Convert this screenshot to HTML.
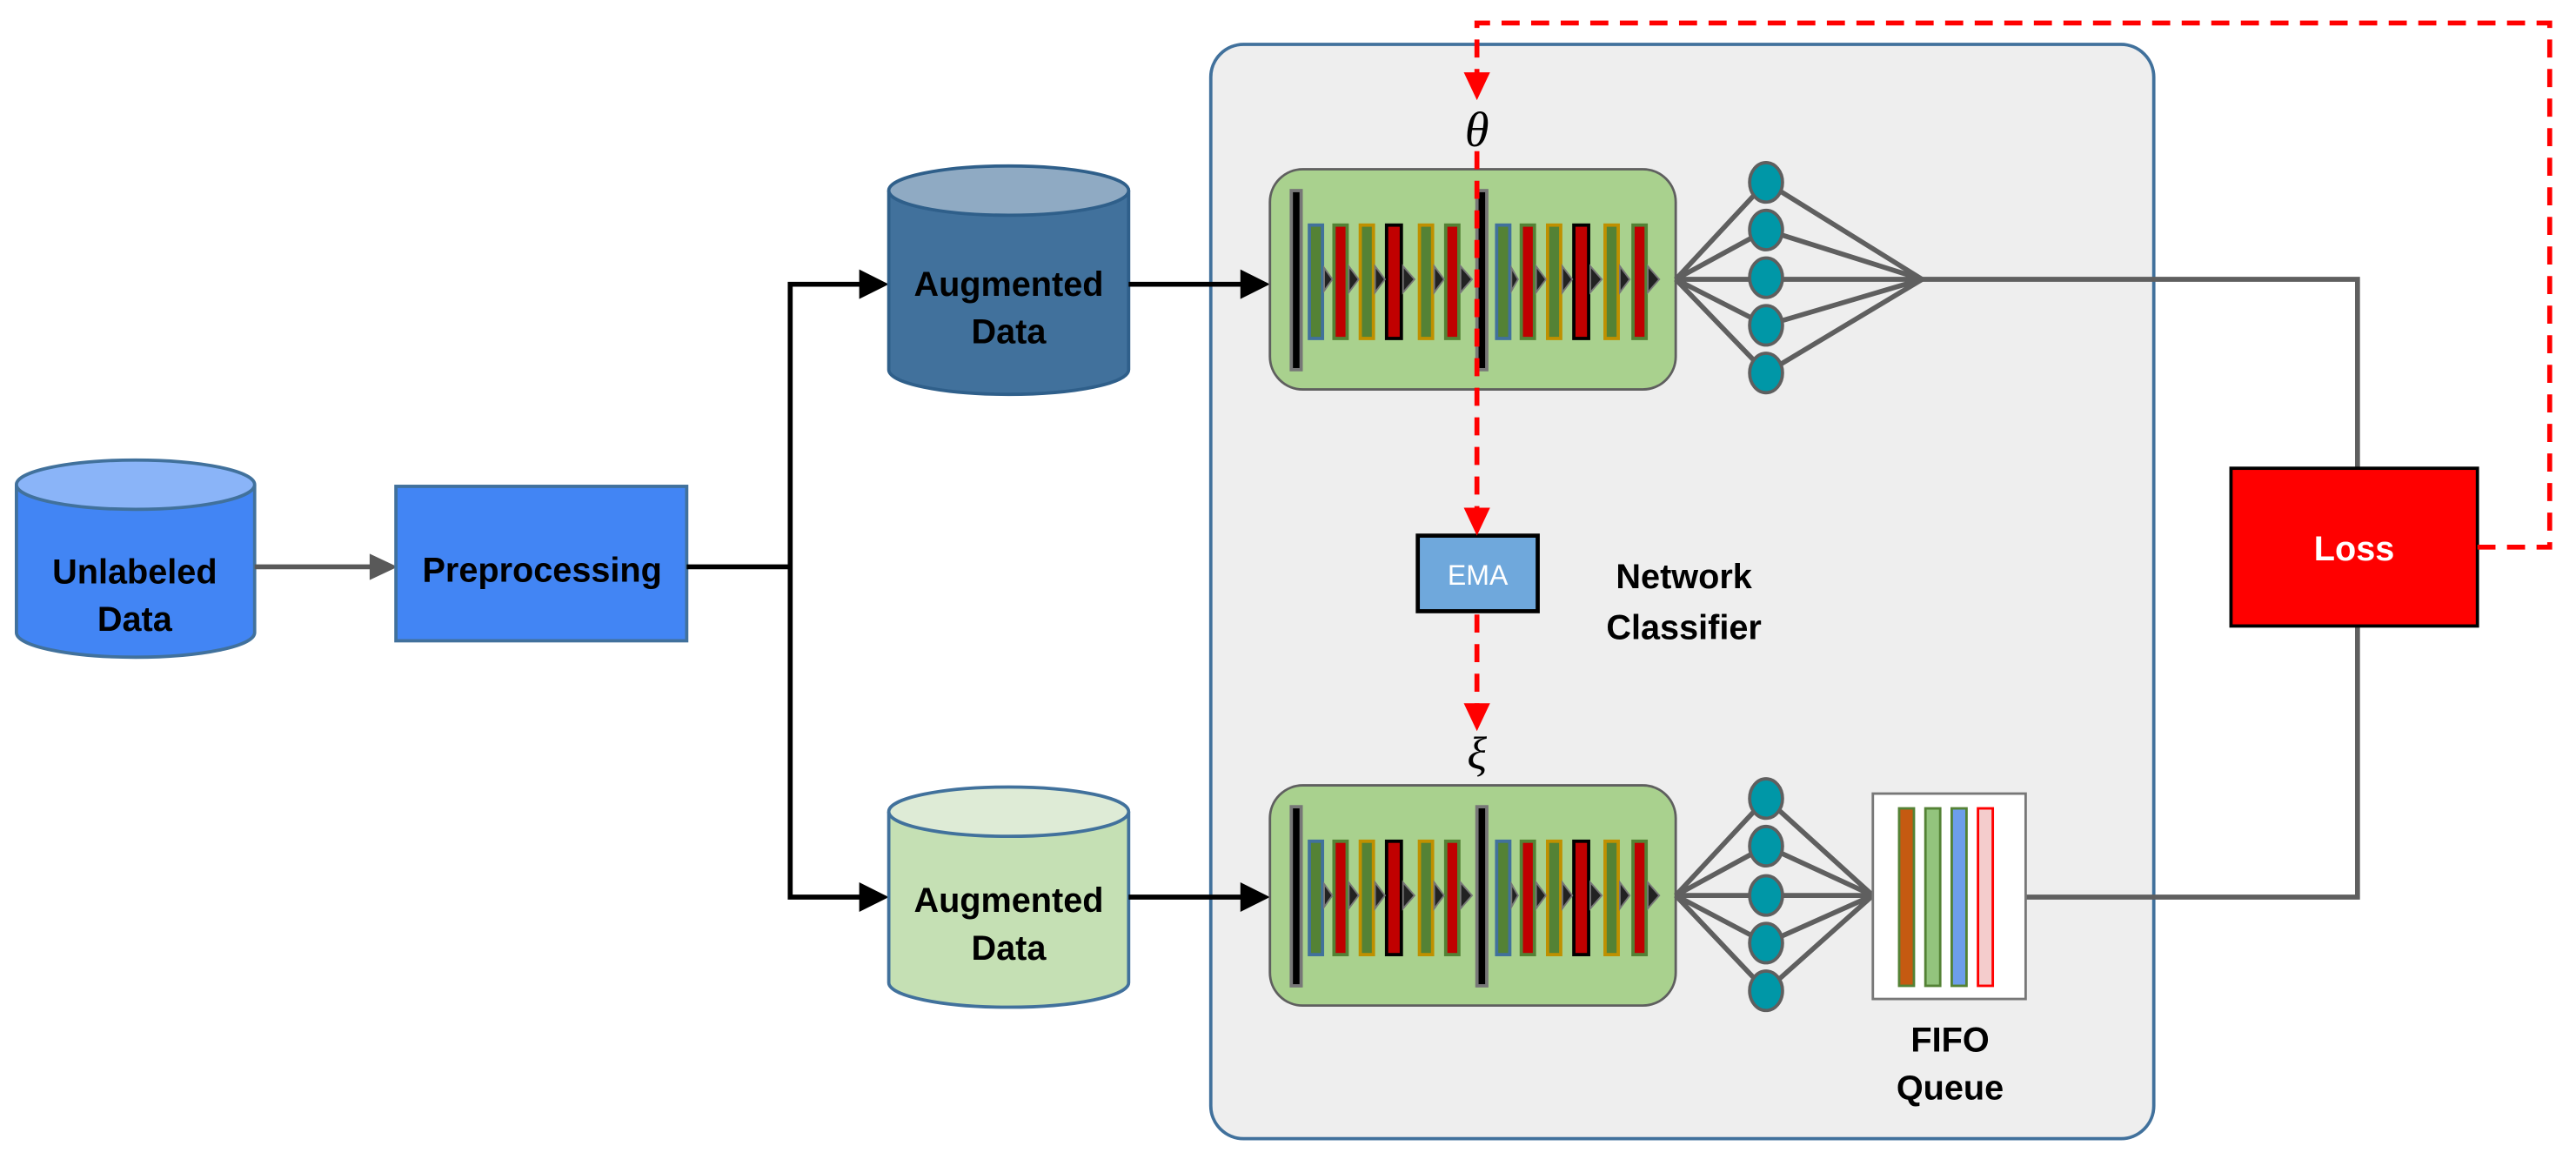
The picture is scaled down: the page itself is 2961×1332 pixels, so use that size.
<!DOCTYPE html>
<html><head><meta charset="utf-8"><style>
html,body{margin:0;padding:0;background:#fff;}
svg{display:block;}
text{font-family:"Liberation Sans",sans-serif;}
</style></head><body>
<svg width="2961" height="1332" viewBox="0 0 1568 705.4" preserveAspectRatio="none" xmlns="http://www.w3.org/2000/svg">
<defs>
<marker id="ab" markerWidth="8" markerHeight="8" refX="7" refY="4" orient="auto" markerUnits="userSpaceOnUse"><path d="M0,0 L0,0" /></marker>
<g id="blk">
  <rect x="773" y="103" width="247" height="134" rx="20" fill="#a9d18e" stroke="#5f5f5f" stroke-width="1.5"/>
  <rect x="786" y="116" width="6" height="109" fill="#000" stroke="#777" stroke-width="2"/>
  <rect x="899" y="116" width="6" height="109" fill="#000" stroke="#777" stroke-width="2"/>
  <g stroke-width="2">
    <rect x="797" y="137" width="8" height="69" fill="#548235" stroke="#41719c"/>
    <rect x="812" y="137" width="8" height="69" fill="#c00000" stroke="#548235"/>
    <rect x="828" y="137" width="8" height="69" fill="#548235" stroke="#bf9000"/>
    <rect x="844" y="137" width="9" height="69" fill="#c00000" stroke="#000"/>
    <rect x="864" y="137" width="8" height="69" fill="#548235" stroke="#bf9000"/>
    <rect x="880" y="137" width="8" height="69" fill="#c00000" stroke="#548235"/>
    <rect x="911" y="137" width="8" height="69" fill="#548235" stroke="#41719c"/>
    <rect x="926" y="137" width="8" height="69" fill="#c00000" stroke="#548235"/>
    <rect x="942" y="137" width="8" height="69" fill="#548235" stroke="#bf9000"/>
    <rect x="958" y="137" width="9" height="69" fill="#c00000" stroke="#000"/>
    <rect x="977" y="137" width="8" height="69" fill="#548235" stroke="#bf9000"/>
    <rect x="994" y="137" width="8" height="69" fill="#c00000" stroke="#548235"/>
  </g>
  <g fill="#222" stroke="#777" stroke-width="1">
    <path d="M806 163 L811 170 L806 177Z"/><path d="M821 162 L827 170 L821 178Z"/>
    <path d="M837 162 L843 170 L837 178Z"/><path d="M854 162 L861 170 L854 178Z"/>
    <path d="M873 162 L879 170 L873 178Z"/><path d="M889 162 L896 170 L889 178Z"/>
    <path d="M920 163 L924 170 L920 177Z"/><path d="M935 162 L941 170 L935 178Z"/>
    <path d="M951 162 L957 170 L951 178Z"/><path d="M968 162 L975 170 L968 178Z"/>
    <path d="M986 162 L992 170 L986 178Z"/><path d="M1003 162 L1010 170 L1003 178Z"/>
  </g>
</g>
</defs>

<!-- big box -->
<rect x="737" y="27" width="574" height="666" rx="20" fill="#eeeeee" stroke="#41719c" stroke-width="2"/>

<!-- Unlabeled cylinder -->
<path d="M10 295 V385 A72.5 15 0 0 0 155 385 V295" fill="#4285f4" stroke="#41719c" stroke-width="2"/>
<ellipse cx="82.5" cy="295" rx="72.5" ry="15" fill="#8ab4f8" stroke="#41719c" stroke-width="2"/>
<text x="82" y="355" font-size="21" font-weight="bold" text-anchor="middle">Unlabeled</text>
<text x="82" y="384" font-size="21" font-weight="bold" text-anchor="middle">Data</text>

<!-- gray arrow -->
<line x1="155" y1="345" x2="227" y2="345" stroke="#595959" stroke-width="3"/>
<path d="M225 337 L242 345 L225 353Z" fill="#595959"/>

<!-- Preprocessing -->
<rect x="241" y="296" width="177" height="94" fill="#4285f4" stroke="#41719c" stroke-width="2"/>
<text x="330" y="354" font-size="21" font-weight="bold" text-anchor="middle">Preprocessing</text>

<!-- branch -->
<path d="M418 345 H481 V173 H525 M481 345 V546 H525" fill="none" stroke="#000" stroke-width="3"/>
<path d="M523 164 L541 173 L523 182Z"/>
<path d="M523 537 L541 546 L523 555Z"/>

<!-- top cylinder -->
<path d="M541 116 V225 A73 15 0 0 0 687 225 V116" fill="#41719c" stroke="#2f5f8a" stroke-width="2"/>
<ellipse cx="614" cy="116" rx="73" ry="15" fill="#8faac3" stroke="#2f5f8a" stroke-width="2"/>
<text x="614" y="180" font-size="21" font-weight="bold" text-anchor="middle">Augmented</text>
<text x="614" y="209" font-size="21" font-weight="bold" text-anchor="middle">Data</text>

<!-- bottom cylinder -->
<path d="M541 494 V598 A73 15 0 0 0 687 598 V494" fill="#c5e0b4" stroke="#41719c" stroke-width="2"/>
<ellipse cx="614" cy="494" rx="73" ry="15" fill="#deebd6" stroke="#41719c" stroke-width="2"/>
<text x="614" y="555" font-size="21" font-weight="bold" text-anchor="middle">Augmented</text>
<text x="614" y="584" font-size="21" font-weight="bold" text-anchor="middle">Data</text>

<!-- arrows into blocks -->
<line x1="687" y1="173" x2="757" y2="173" stroke="#000" stroke-width="3"/>
<path d="M755 164 L773 173 L755 182Z"/>
<line x1="687" y1="546" x2="757" y2="546" stroke="#000" stroke-width="3"/>
<path d="M755 537 L773 546 L755 555Z"/>

<!-- blocks -->
<use href="#blk"/>
<use href="#blk" transform="translate(0,375)"/>

<!-- top fan -->
<g stroke="#5f5f5f" stroke-width="3" fill="none">
<path d="M1020 170 L1075 111 L1170 170 M1020 170 L1075 140 L1170 170 M1020 170 L1170 170 M1020 170 L1075 198 L1170 170 M1020 170 L1075 227 L1170 170"/>
<path d="M1170 170 H1435 V285"/>
<path d="M1020 545 L1075 486 L1140 545 M1020 545 L1075 515 L1140 545 M1020 545 L1140 545 M1020 545 L1075 574 L1140 545 M1020 545 L1075 603 L1140 545"/>
<path d="M1233 546 H1435 V381"/>
</g>
<g fill="#0097a7" stroke="#5f5f5f" stroke-width="2">
<ellipse cx="1075" cy="111" rx="10" ry="12"/><ellipse cx="1075" cy="140" rx="10" ry="12"/>
<ellipse cx="1075" cy="169" rx="10" ry="12"/><ellipse cx="1075" cy="198" rx="10" ry="12"/>
<ellipse cx="1075" cy="227" rx="10" ry="12"/>
<ellipse cx="1075" cy="486" rx="10" ry="12"/><ellipse cx="1075" cy="515" rx="10" ry="12"/>
<ellipse cx="1075" cy="545" rx="10" ry="12"/><ellipse cx="1075" cy="574" rx="10" ry="12"/>
<ellipse cx="1075" cy="603" rx="10" ry="12"/>
</g>

<!-- FIFO -->
<rect x="1140" y="483" width="93" height="125" fill="#fff" stroke="#777" stroke-width="1.5"/>
<rect x="1156" y="492" width="9" height="108" fill="#c55a11" stroke="#548235" stroke-width="1.5"/>
<rect x="1172" y="492" width="9" height="108" fill="#93c47d" stroke="#548235" stroke-width="1.5"/>
<rect x="1188" y="492" width="9" height="108" fill="#6d9eeb" stroke="#548235" stroke-width="1.5"/>
<rect x="1204" y="492" width="9" height="108" fill="#f4cccc" stroke="#ff0000" stroke-width="1.5"/>
<text x="1187" y="640" font-size="21" font-weight="bold" text-anchor="middle">FIFO</text>
<text x="1187" y="669" font-size="21" font-weight="bold" text-anchor="middle">Queue</text>

<!-- Loss -->
<rect x="1358" y="285" width="150" height="96" fill="#ff0000" stroke="#000" stroke-width="2"/>
<text x="1433" y="341" font-size="21" font-weight="bold" fill="#fff" text-anchor="middle">Loss</text>

<!-- EMA -->
<rect x="863" y="326" width="73" height="46" fill="#6fa8dc" stroke="#000" stroke-width="2.5"/>
<text x="899.5" y="356" font-size="17" fill="#fff" text-anchor="middle">EMA</text>
<text x="1025" y="358" font-size="21" font-weight="bold" text-anchor="middle">Network</text>
<text x="1025" y="389" font-size="21" font-weight="bold" text-anchor="middle">Classifier</text>

<!-- red dashed -->
<g stroke="#ff0000" stroke-width="3" fill="none" stroke-dasharray="11 7">
<path d="M1508 333 H1552 V14 H899 V48"/>
<path d="M899 92 V312"/>
<path d="M899 374 V432"/>
</g>
<g fill="#ff0000">
<path d="M891 44 L899 61 L907 44Z"/>
<path d="M891 309 L899 326 L907 309Z"/>
<path d="M891 428 L899 445 L907 428Z"/>
</g>
<text x="899" y="89" font-size="30" font-style="italic" font-family="Liberation Serif,serif" text-anchor="middle" style="font-family:'Liberation Serif',serif">θ</text>
<text x="899" y="468" font-size="28" font-style="italic" text-anchor="middle" style="font-family:'Liberation Serif',serif">ξ</text>
</svg>
</body></html>
